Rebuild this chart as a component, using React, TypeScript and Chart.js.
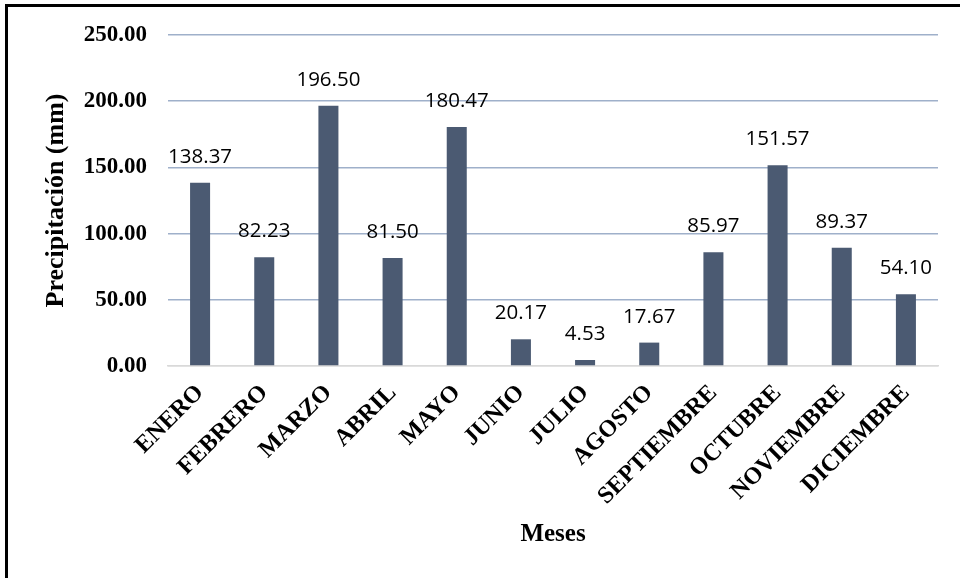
import React, { useEffect, useRef } from "react";
import { Chart, registerables } from "chart.js";

Chart.register(...registerables);

const months = ["ENERO", "FEBRERO", "MARZO", "ABRIL", "MAYO", "JUNIO", "JULIO", "AGOSTO", "SEPTIEMBRE", "OCTUBRE", "NOVIEMBRE", "DICIEMBRE"];
const precipitation = [138.37, 82.23, 196.5, 81.5, 180.47, 20.17, 4.53, 17.67, 85.97, 151.57, 89.37, 54.1];
const yMin = 0;
const yMax = 250;
const yStep = 50;
const yTitle = "Precipitación (mm)";
const xTitle = "Meses";

const SERIF = '"Liberation Serif", "Times New Roman", serif';

const valueLabels = {
  id: "valueLabels",
  afterDatasetsDraw(chart: any) {
    const ctx = chart.ctx;
    const meta = chart.getDatasetMeta(0);
    ctx.save();
    ctx.font = '20.5px "Open Sans", sans-serif';
    ctx.fillStyle = "#000000";
    ctx.textAlign = "center";
    ctx.textBaseline = "alphabetic";
    meta.data.forEach((bar: any, i: number) => {
      const v = chart.data.datasets[0].data[i] as number;
      ctx.fillText(v.toFixed(2), bar.x, bar.y - 20);
    });
    ctx.restore();
  },
};

export default function App() {
  const ref = useRef<HTMLCanvasElement | null>(null);
  useEffect(() => {
    if (!ref.current) return;
    const chart = new Chart(ref.current, {
      type: "bar",
      data: {
        labels: months,
        datasets: [
          {
            data: precipitation,
            backgroundColor: "#4b5a72",
            barPercentage: 0.312,
            categoryPercentage: 1,
          },
        ],
      },
      plugins: [valueLabels],
      options: {
        responsive: false,
        animation: false,
        layout: { padding: { left: 41, top: 35, right: 22, bottom: 28 } },
        plugins: { legend: { display: false }, tooltip: { enabled: false } },
        scales: {
          x: {
            grid: { display: false },
            border: { display: true, color: "#d9d9d9", width: 1.5 },
            ticks: {
              maxRotation: 45,
              minRotation: 45,
              padding: 5,
              color: "#000000",
              font: { family: SERIF, size: 24, weight: "bold" },
            },
            title: {
              display: true,
              text: xTitle,
              color: "#000000",
              padding: { top: 0, bottom: 0 },
              font: { family: SERIF, size: 25, weight: "bold", lineHeight: 1.2 },
            },
            afterFit(scale: any) {
              scale.height = 184;
            },
          },
          y: {
            min: yMin,
            max: yMax,
            border: { display: false },
            grid: {
              drawTicks: false,
              lineWidth: 1.5,
              color: (c: any) => (c.tick && c.tick.value === 0 ? "#d9d9d9" : "#9fb0ca"),
            },
            ticks: {
              stepSize: yStep,
              padding: 21,
              color: "#000000",
              font: { family: SERIF, size: 23, weight: "bold" },
              callback: (v: any) => Number(v).toFixed(2),
            },
            title: {
              display: true,
              text: yTitle,
              color: "#000000",
              padding: { top: 0, bottom: 0 },
              font: { family: SERIF, size: 26, weight: "bold", lineHeight: 1.2 },
            },
            afterFit(scale: any) {
              scale.width = 127;
            },
          },
        },
      },
    });
    return () => chart.destroy();
  }, []);

  return (
    <div style={{ position: "absolute", left: 0, top: 0, width: 960, height: 578, overflow: "hidden", background: "#ffffff" }}>
      <div
        style={{
          position: "absolute",
          left: 5,
          top: 4,
          width: 1000,
          height: 700,
          borderLeft: "3px solid #000",
          borderTop: "3px solid #000",
          boxSizing: "border-box",
        }}
      />
      <canvas ref={ref} width={960} height={578} style={{ position: "absolute", left: 0, top: 0, width: 960, height: 578 }} />
    </div>
  );
}
